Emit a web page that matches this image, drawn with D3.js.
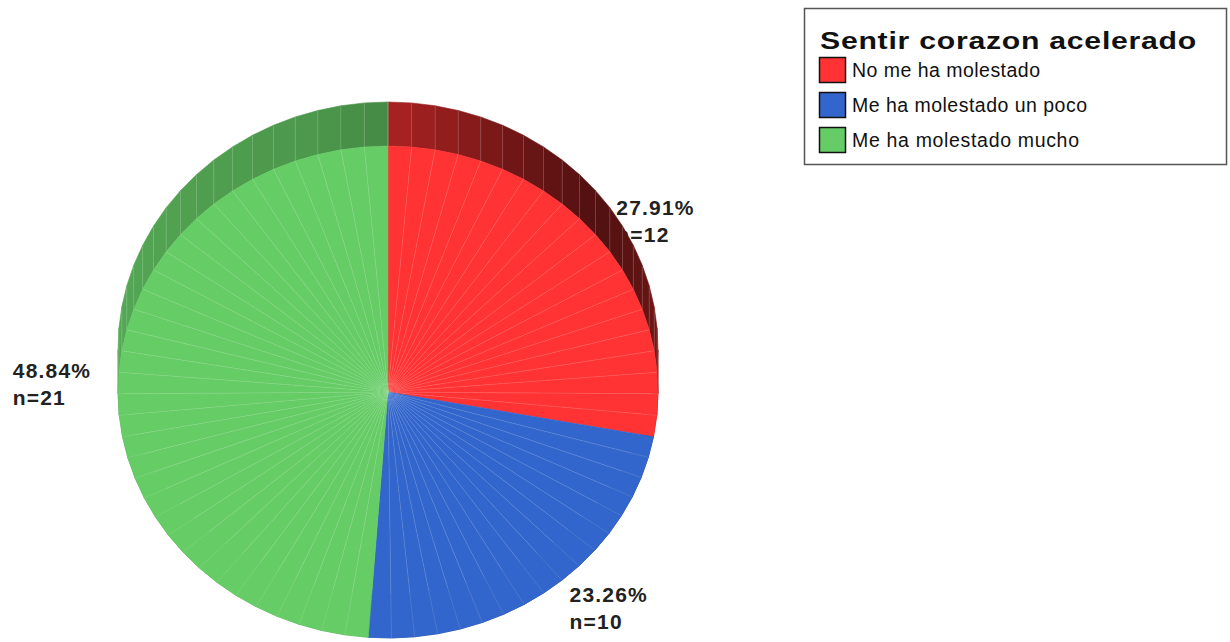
<!DOCTYPE html>
<html>
<head>
<meta charset="utf-8">
<script src="https://cdn.jsdelivr.net/npm/d3@7"></script>
<style>
  html, body { margin: 0; padding: 0; background: #fff; }
  svg { display: block; }
</style>
</head>
<body>
<svg id="chart" width="1230" height="642"></svg>
<script>
// Category data
const title = "Sentir corazon acelerado";
const categories = ["No me ha molestado", "Me ha molestado un poco", "Me ha molestado mucho"];
const counts = [12, 10, 21];
const percents = ["27.91%", "23.26%", "48.84%"];
const colors = ["#ff3333", "#3366cc", "#66cc66"];

const svg = d3.select("#chart");

// Geometry of the tilted pie: top face ellipse plus an extruded rim
const cx = 388, cy = 392, rx = 270, ry = 246, depth = 44;
const facetStep = 5 * Math.PI / 180;

const pie = d3.pie().sort(null).value(d => d).startAngle(0).endAngle(2 * Math.PI);
const arcs = pie(counts);

const px = d3.scaleLinear().domain([-1, 1]).range([cx - rx, cx + rx]);
const py = d3.scaleLinear().domain([-1, 1]).range([cy - ry, cy + ry]);
const front = a => [px(Math.sin(a)), py(-Math.cos(a))];
const back = a => [px(Math.sin(a)), py(-Math.cos(a)) - depth];

// Rim shading as a function of facet direction (degrees from 12 o'clock)
const shade = d3.scaleLinear()
  .domain([-180, -90, -60, -15, 0, 15, 30, 50, 70, 90, 180])
  .range([0.85, 0.83, 0.80, 0.74, 0.67, 0.55, 0.42, 0.32, 0.38, 0.50, 0.6])
  .clamp(true);
const toDeg = a => { let d = a * 180 / Math.PI; if (d > 180) d -= 360; return d; };

// Facet angles per slice
const facets = arcs.map(s => {
  const n = Math.max(1, Math.round((s.endAngle - s.startAngle) / facetStep));
  return d3.range(n + 1).map(i => s.startAngle + (s.endAngle - s.startAngle) * i / n);
});

// Value labels (drawn first so the rim overlaps them where they meet)
const labelG = svg.append("g");
arcs.forEach((s, i) => {
  const mid = (s.startAngle + s.endAngle) / 2;
  const lx = px(1.1 * Math.sin(mid));
  const ly = py(-1.1 * Math.cos(mid)) - 4;
  const anchorEnd = Math.sin(mid) < -0.3;
  const t = labelG.append("text")
    .attr("x", lx).attr("y", ly)
    .attr("font-family", "Liberation Sans, Arial, sans-serif")
    .attr("font-weight", "bold")
    .attr("font-size", 21)
    .attr("letter-spacing", "1.2px")
    .attr("fill", "#222");
  const l1 = t.append("tspan").attr("x", lx).text(percents[i]);
  const l2 = t.append("tspan").attr("x", lx).attr("dy", 27).text("n=" + counts[i]);
  if (anchorEnd) {
    const w = Math.max(l1.node().getComputedTextLength(), l2.node().getComputedTextLength());
    l1.attr("x", lx - w);
    l2.attr("x", lx - w);
  }
});

const pieG = svg.append("g");

// Rim (side wall) quads
const rimG = pieG.append("g");
arcs.forEach((s, i) => {
  const base = d3.rgb(colors[i]);
  const angs = facets[i];
  for (let k = 0; k < angs.length - 1; k++) {
    const a1 = angs[k], a2 = angs[k + 1];
    const f = shade(toDeg((a1 + a2) / 2));
    const c = d3.rgb(base.r * f, base.g * f, base.b * f);
    rimG.append("path")
      .attr("d", d3.line()([front(a1), front(a2), back(a2), back(a1)]) + "Z")
      .attr("fill", c)
      .attr("stroke", c)
      .attr("stroke-width", 0.6);
  }
});
// Rim seams
arcs.forEach((s, i) => {
  facets[i].forEach(a => {
    if (Math.cos(a) <= 0.02) return;
    rimG.append("line")
      .attr("x1", front(a)[0]).attr("y1", front(a)[1])
      .attr("x2", back(a)[0]).attr("y2", back(a)[1])
      .attr("stroke", "#ffffff").attr("stroke-opacity", 0.22).attr("stroke-width", 0.8);
  });
});

// Top face triangles
const topG = pieG.append("g");
arcs.forEach((s, i) => {
  const angs = facets[i];
  for (let k = 0; k < angs.length - 1; k++) {
    topG.append("path")
      .attr("d", d3.line()([[cx, cy], front(angs[k]), front(angs[k + 1])]) + "Z")
      .attr("fill", colors[i])
      .attr("stroke", colors[i])
      .attr("stroke-width", 0.5);
  }
});
// Top face seams, starting just off the hub so they do not pile up there
arcs.forEach((s, i) => {
  facets[i].slice(1, -1).forEach(a => {
    const p = front(a);
    topG.append("line")
      .attr("x1", cx + (p[0] - cx) * 0.03).attr("y1", cy + (p[1] - cy) * 0.03)
      .attr("x2", p[0]).attr("y2", p[1])
      .attr("stroke", "#ffffff").attr("stroke-opacity", 0.2).attr("stroke-width", 0.7);
  });
});
// Soft light spot at the hub
const hub = svg.append("defs").append("radialGradient").attr("id", "hubGlow");
hub.append("stop").attr("offset", "0%").attr("stop-color", "#ffffff").attr("stop-opacity", 0.35);
hub.append("stop").attr("offset", "100%").attr("stop-color", "#ffffff").attr("stop-opacity", 0);
topG.append("ellipse").attr("cx", cx).attr("cy", cy).attr("rx", 10).attr("ry", 10)
  .attr("fill", "url(#hubGlow)");

// Legend
const lg = svg.append("g");
lg.append("rect")
  .attr("x", 804.5).attr("y", 8.5).attr("width", 422).attr("height", 156)
  .attr("fill", "#fff").attr("stroke", "#555").attr("stroke-width", 1.5);
// Title: slightly widened glyphs to fill the legend width
const titleText = lg.append("text")
  .attr("x", 0).attr("y", 0)
  .attr("font-family", "Liberation Sans, Arial, sans-serif")
  .attr("font-weight", "bold").attr("font-size", 24.5)
  .attr("letter-spacing", "0.6px")
  .attr("fill", "#111")
  .text(title);
const tw = titleText.node().getComputedTextLength();
titleText.attr("transform", `translate(820,49) scale(${377 / tw},1)`);

const legendWidths = [188, 235, 227];
categories.forEach((c, i) => {
  const by = 77 + i * 35;
  lg.append("rect")
    .attr("x", 819.5).attr("y", by - 19.5).attr("width", 26).attr("height", 25)
    .attr("fill", colors[i]).attr("stroke", "#111").attr("stroke-width", 1.5);
  lg.append("text")
    .attr("x", 852).attr("y", by)
    .attr("font-family", "Liberation Sans, Arial, sans-serif")
    .attr("font-size", 19.5)
    .attr("fill", "#111")
    .attr("textLength", legendWidths[i]).attr("lengthAdjust", "spacing")
    .text(c);
});
</script>
</body>
</html>
